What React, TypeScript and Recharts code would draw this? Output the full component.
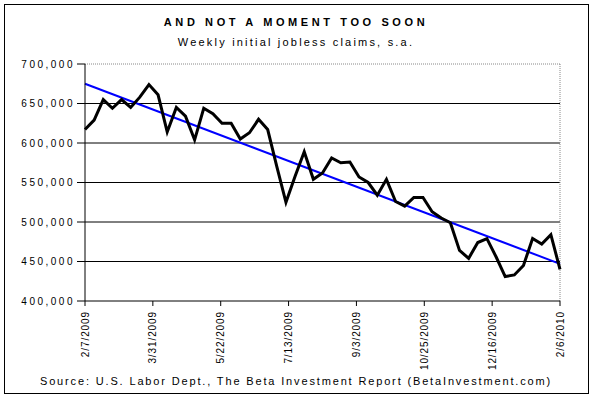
import { LineChart, Line, XAxis, YAxis, ReferenceLine } from "recharts";

// weekly initial claims, 2/7/2009 .. 2/6/2010 (thousands)
const claims = [
  617, 629, 655, 644, 655, 645, 658, 674, 661, 614, 645, 634, 604, 644, 637,
  625, 625, 605, 613, 630, 617, 570, 525, 558, 589, 554, 562, 581, 575, 576,
  557, 550, 534, 554, 526, 520, 531, 531, 513, 505, 499, 464, 454, 474, 479,
  456, 431, 433, 445, 479, 472, 484, 440,
];
// linear trend, first and last week
const trendEnds = [675, 447];

const dateTicks = [0, 52, 104, 156, 208, 260, 312, 364];
const dateLabels = [
  "2/7/2009",
  "3/31/2009",
  "5/22/2009",
  "7/13/2009",
  "9/3/2009",
  "10/25/2009",
  "12/16/2009",
  "2/6/2010",
];
const yTicks = [400000, 450000, 500000, 550000, 600000, 650000, 700000];
const gridValues = [450000, 500000, 550000, 600000, 650000];

const data = claims.map((v, i) => ({
  day: i * 7,
  claims: v * 1000,
  trend:
    i === 0
      ? trendEnds[0] * 1000
      : i === claims.length - 1
      ? trendEnds[1] * 1000
      : undefined,
}));

const font = "'Liberation Sans', Arial, sans-serif";

function DateTick(props: any) {
  const { x, y, payload } = props;
  const idx = dateTicks.indexOf(payload.value);
  return (
    <text
      x={x}
      y={y}
      transform={`rotate(-90 ${x} ${y})`}
      textAnchor="end"
      dy={3.5}
      fontSize={10}
      fontFamily={font}
      letterSpacing={0.9}
      fill="#000"
    >
      {dateLabels[idx]}
    </text>
  );
}

export default function App() {
  return (
    <div
      style={{
        position: "absolute",
        left: 0,
        top: 0,
        width: 592,
        height: 397,
        background: "#fff",
        fontFamily: font,
      }}
    >
      <div
        style={{
          position: "absolute",
          left: 4,
          top: 4,
          width: 583,
          height: 388,
          border: "1px solid #000",
        }}
      />
      <div
        style={{
          position: "absolute",
          left: 0,
          width: 592,
          top: 16,
          textAlign: "center",
          fontSize: 11,
          fontWeight: "bold",
          letterSpacing: 3.6,
        }}
      >
        AND NOT A MOMENT TOO SOON
      </div>
      <div
        style={{
          position: "absolute",
          left: 0,
          width: 592,
          top: 36,
          textAlign: "center",
          fontSize: 11,
          letterSpacing: 2.2,
        }}
      >
        Weekly initial jobless claims, s.a.
      </div>
      <div
        style={{
          position: "absolute",
          left: 0,
          width: 592,
          top: 375,
          textAlign: "center",
          fontSize: 11,
          letterSpacing: 1.85,
        }}
      >
        Source: U.S. Labor Dept., The Beta Investment Report
        (BetaInvestment.com)
      </div>
      <LineChart
        width={592}
        height={397}
        data={data}
        margin={{ top: 64, right: 32, left: 0, bottom: 0 }}
        style={{ position: "absolute", left: 0, top: 0 }}
      >
        {gridValues.map((v) => (
          <ReferenceLine key={v} y={v} stroke="#000" strokeWidth={1} />
        ))}
        <ReferenceLine y={700000} stroke="#888" strokeDasharray="1 1" />
        <ReferenceLine x={364} stroke="#888" strokeDasharray="1 1" />
        <XAxis
          dataKey="day"
          type="number"
          domain={[0, 364]}
          ticks={dateTicks}
          interval={0}
          height={96}
          tick={<DateTick />}
          tickSize={5}
          tickMargin={5}
          stroke="#000"
          tickLine={{ stroke: "#000" }}
        />
        <YAxis
          domain={[400000, 700000]}
          ticks={yTicks}
          width={85}
          tickSize={8}
          tickMargin={2}
          stroke="#000"
          tickFormatter={(v: number) => v.toLocaleString("en-US")}
          tick={{
            fill: "#000",
            fontSize: 10,
            fontFamily: font,
            letterSpacing: 2.5,
          }}
        />
        <Line
          type="linear"
          dataKey="trend"
          stroke="#0000ff"
          strokeWidth={2}
          dot={false}
          connectNulls
          isAnimationActive={false}
        />
        <Line
          type="linear"
          dataKey="claims"
          stroke="#000"
          strokeWidth={3}
          dot={false}
          isAnimationActive={false}
        />
      </LineChart>
    </div>
  );
}
